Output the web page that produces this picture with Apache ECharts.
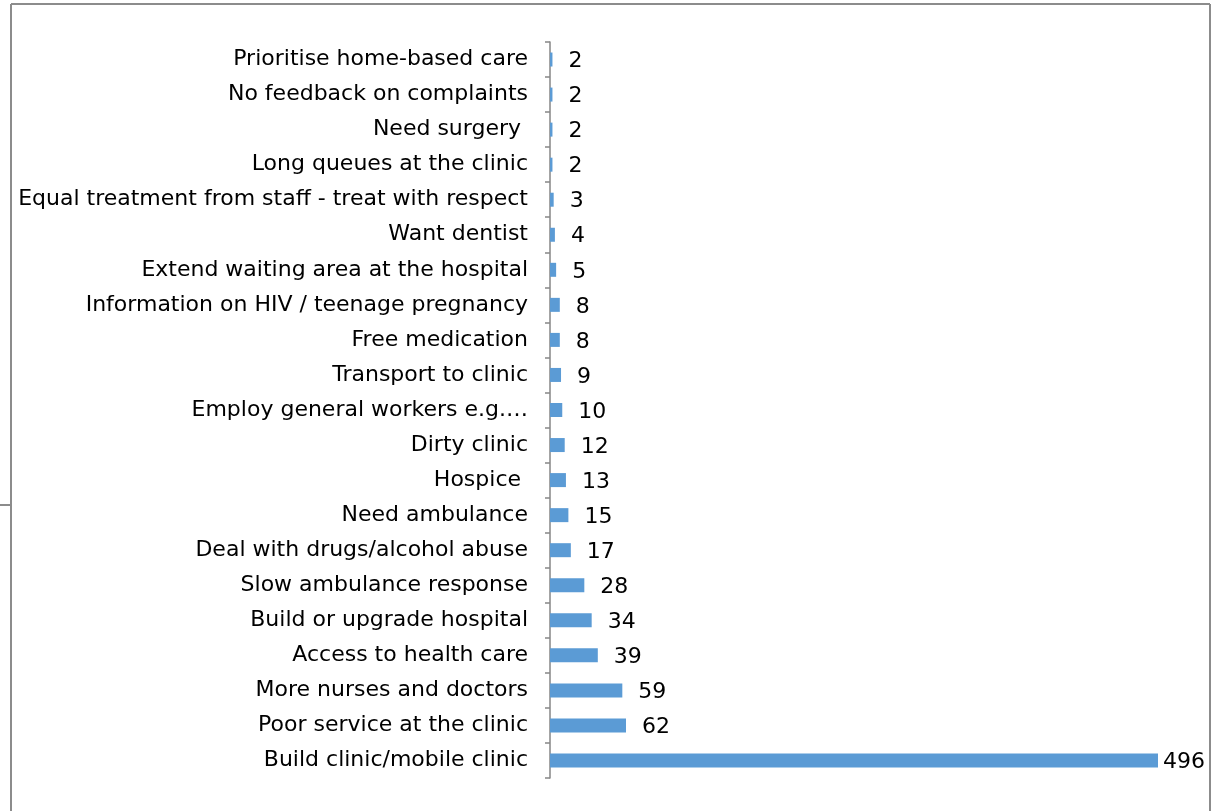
<!DOCTYPE html>
<html>
<head>
    <meta charset="utf-8">
    <title>ECharts</title>
    <script src="https://cdn.jsdelivr.net/npm/echarts@6/dist/echarts.min.js"></script>
</head>
<body style="margin:0;">
    <div id="chart1" style="width: 1214px;height:811px;"></div>
    <script type="text/javascript">
        // top to bottom
        var categories = [
            'Prioritise home-based care',
            'No feedback on complaints',
            'Need surgery ',
            'Long queues at the clinic',
            'Equal treatment from staff - treat with respect',
            'Want dentist',
            'Extend waiting area at the hospital',
            'Information on HIV / teenage pregnancy',
            'Free medication',
            'Transport to clinic',
            'Employ general workers e.g.…',
            'Dirty clinic',
            'Hospice ',
            'Need ambulance',
            'Deal with drugs/alcohol abuse',
            'Slow ambulance response',
            'Build or upgrade hospital',
            'Access to health care',
            'More nurses and doctors',
            'Poor service at the clinic',
            'Build clinic/mobile clinic'
        ];
        var counts = [2, 2, 2, 2, 3, 4, 5, 8, 8, 9, 10, 12, 13, 15, 17, 28, 34, 39, 59, 62, 496];

        var myChart = echarts.init(document.getElementById('chart1'));
        var lineStyle = { stroke: '#8c8c8c', lineWidth: 2 };

        // the longest bar's label sits closer to the bar end
        var barData = counts.map(function (v, i) {
            if (i === counts.length - 1) {
                return { value: v, label: { distance: 5 } };
            }
            return v;
        });

        var option = {
            animation: false,
            textStyle: { fontFamily: 'DejaVu Sans' },
            graphic: [
                { type: 'line', shape: { x1: 11, y1: 4, x2: 1210, y2: 4 }, style: lineStyle },
                { type: 'line', shape: { x1: 11, y1: 4, x2: 11, y2: 811 }, style: lineStyle },
                { type: 'line', shape: { x1: 1210, y1: 4, x2: 1210, y2: 811 }, style: lineStyle },
                { type: 'line', shape: { x1: 0, y1: 505, x2: 11, y2: 505 }, style: lineStyle }
            ],
            grid: {
                left: 550,
                right: 56,
                top: 42,
                bottom: 33
            },
            xAxis: {
                type: 'value',
                min: 0,
                max: 496,
                show: false
            },
            yAxis: {
                type: 'category',
                inverse: true,
                data: categories,
                axisLine: { lineStyle: { color: '#868686', width: 1.5 } },
                axisTick: { show: true, length: 5, lineStyle: { color: '#868686', width: 1.5 } },
                axisLabel: { color: '#000', fontSize: 22, margin: 22, padding: [4, 0, 0, 0] }
            },
            series: [{
                type: 'bar',
                data: barData,
                barWidth: 14,
                itemStyle: { color: '#5b9bd5' },
                label: {
                    show: true,
                    position: 'right',
                    distance: 16,
                    offset: [0, 2],
                    color: '#000',
                    fontSize: 22
                }
            }]
        };

        myChart.setOption(option);
    </script>
</body>
</html>
